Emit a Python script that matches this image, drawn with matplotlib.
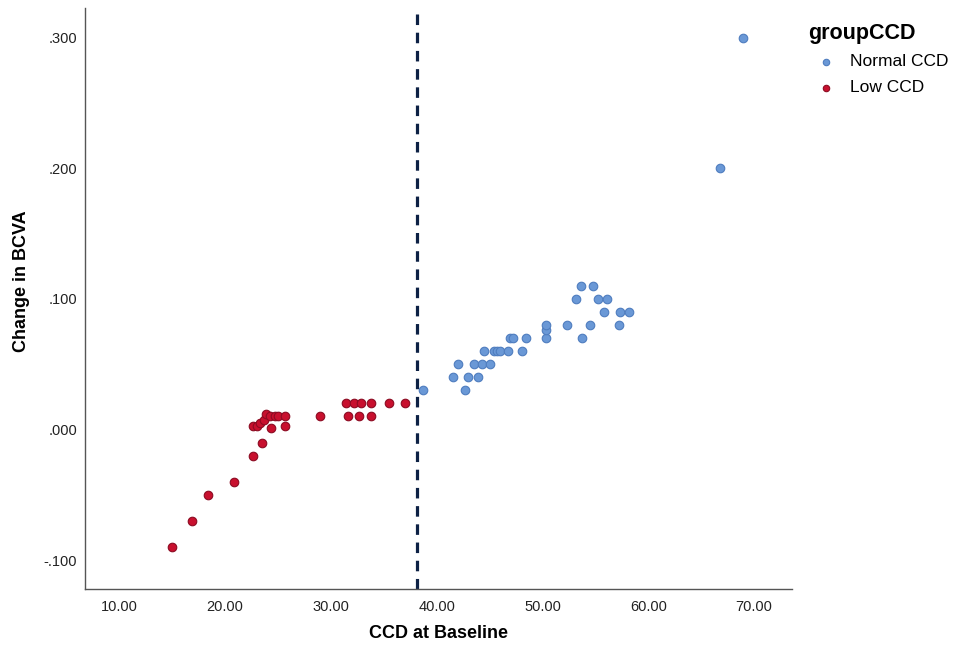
import numpy as np
import matplotlib.pyplot as plt

# Datos (CCD basal vs cambio en BCVA)
low_ccd_x = [15.0, 16.9, 18.4, 20.8, 22.6, 23.5, 24.3,
             22.6, 23.0, 23.3, 23.7, 23.9, 24.2, 24.7, 25.0,
             25.7, 25.7, 29.0,
             31.4, 32.2, 32.8, 33.8, 35.5, 37.0,
             31.6, 32.7, 33.8]
low_ccd_y = [-0.090, -0.070, -0.050, -0.040, -0.020, -0.010, 0.001,
             0.003, 0.003, 0.005, 0.007, 0.012, 0.010, 0.010, 0.010,
             0.010, 0.003, 0.010,
             0.020, 0.020, 0.020, 0.020, 0.020, 0.020,
             0.010, 0.010, 0.010]

normal_ccd_x = [38.7, 42.7,
                41.5, 43.0, 43.9,
                42.0, 43.5, 44.3, 45.0,
                44.5, 45.4, 45.7, 46.0, 46.7, 48.1,
                46.9, 47.2, 48.4, 50.3, 50.3, 50.3,
                52.3, 53.7, 54.5, 57.2,
                53.2, 55.2, 56.1,
                53.6, 54.8,
                55.8, 57.3, 58.2,
                66.8, 68.9]
normal_ccd_y = [0.030, 0.030,
                0.040, 0.040, 0.040,
                0.050, 0.050, 0.050, 0.050,
                0.060, 0.060, 0.060, 0.060, 0.060, 0.060,
                0.070, 0.070, 0.070, 0.070, 0.076, 0.080,
                0.080, 0.070, 0.080, 0.080,
                0.100, 0.100, 0.100,
                0.110, 0.110,
                0.090, 0.090, 0.090,
                0.200, 0.300]

corte_ccd = 38.1
x_ticks = [10, 20, 30, 40, 50, 60, 70]
y_ticks = [-0.1, 0.0, 0.1, 0.2, 0.3]

plt.rcParams['font.family'] = ['Liberation Sans', 'DejaVu Sans']

fig = plt.figure(figsize=(9.57, 6.5), dpi=100)
ax = fig.add_axes([0.0888, 0.0943, 0.7385, 0.8929])

ax.scatter(normal_ccd_x, normal_ccd_y, s=38, color='#6a98d6',
           edgecolors='#4f7dbf', linewidths=0.8, label='Normal CCD', zorder=3)
ax.scatter(low_ccd_x, low_ccd_y, s=38, color='#c8102e',
           edgecolors='#8c0b22', linewidths=0.8, label='Low CCD', zorder=3)

ax.axvline(corte_ccd, color='#0d2145', linewidth=2.3,
           linestyle=(0, (3.3, 2.4)), zorder=2)

ax.set_xlim(6.76, 73.55)
ax.set_ylim(-0.1219, 0.3225)
ax.set_xticks(x_ticks)
ax.set_xticklabels([f'{v:.2f}' for v in x_ticks])
ax.set_yticks(y_ticks)
ax.set_yticklabels([f'{v:.3f}'.replace('0.', '.', 1) for v in y_ticks])
ax.tick_params(length=0, labelsize=10.5, colors='#222222')
ax.tick_params(axis='x', pad=8)
ax.tick_params(axis='y', pad=5.8)

for lado in ['top', 'right']:
    ax.spines[lado].set_visible(False)
for lado in ['left', 'bottom']:
    ax.spines[lado].set_color('#555555')
    ax.spines[lado].set_linewidth(1.0)

ax.set_xlabel('CCD at Baseline', fontsize=13, fontweight='bold')
ax.xaxis.set_label_coords(0.5, -0.078)
ax.xaxis.label.set_va('center')
ax.set_ylabel('Change in BCVA', fontsize=13, fontweight='bold')
ax.yaxis.set_label_coords(-0.09, 0.53)
ax.yaxis.label.set_va('center')

leg = ax.legend(title='groupCCD', loc='upper left',
                bbox_to_anchor=(0.8375, 0.976), bbox_transform=fig.transFigure,
                frameon=False, fontsize=12.5, handletextpad=0.39,
                labelspacing=0.62, borderaxespad=0, markerscale=0.75)
leg.get_title().set_fontsize(15.5)
leg.get_title().set_fontweight('bold')
leg._legend_box.align = 'left'

fig.savefig('out.png', dpi=100)
